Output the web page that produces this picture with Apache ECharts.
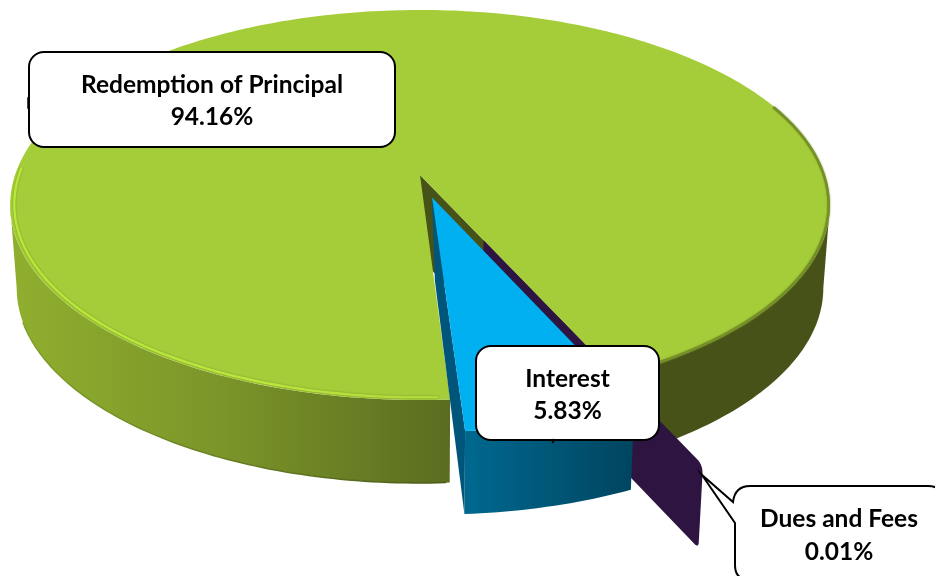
<!DOCTYPE html>
<html><head><meta charset="utf-8">
<style>html,body{margin:0;padding:0;background:#fff}#c{width:935px;height:576px}</style>
<script src="https://cdn.jsdelivr.net/npm/echarts@6/dist/echarts.min.js"></script>
</head><body><div id="c"></div>
<script>
// ---- data
var categories = ['Redemption of Principal', 'Interest', 'Dues and Fees'];
var shares = [94.16, 5.83, 0.01];

// ---- view: a tilted disc seen in perspective
var startAngle = 24.64, drawOrder = [1, 3, 2], explode = [0, 0.12, 0.358];
var apexX = 420, apexY = 175, radX = 405, radY = 190.4, persp = 0.1538, depth = 83, taper = 0.984;
var total = shares.reduce(function (a, b) { return a + b; }, 0);
var edgeAngle = Math.acos(persp) * 180 / Math.PI; // where the disc's outline turns
function rad(d) { return d * Math.PI / 180; }
function project(u, v, low) {
  var w = 1 - persp * v, x = radX * u / w, y = radY * v / w;
  return low ? [apexX + x * taper, apexY + y + depth] : [apexX + x, apexY + y];
}
function sliceAngles(i) {
  var a = startAngle;
  for (var k = 0; k < i; k++) a += shares[k] / total * 360;
  return [a, a + shares[i] / total * 360];
}
function rim(i, a0, a1, low, scale) {
  var ang = sliceAngles(i), mid = rad((ang[0] + ang[1]) / 2), r = scale || 1;
  var ou = explode[i] * Math.sin(mid), ov = explode[i] * Math.cos(mid), out = [];
  var n = Math.max(1, Math.ceil(Math.abs(a1 - a0)));
  for (var s = 0; s <= n; s++) {
    var t = rad(a0 + (a1 - a0) * s / n);
    out.push(project(ou + r * Math.sin(t), ov + r * Math.cos(t), low));
  }
  return out;
}
function apex(i, low) {
  var ang = sliceAngles(i), mid = rad((ang[0] + ang[1]) / 2);
  return project(explode[i] * Math.sin(mid), explode[i] * Math.cos(mid), low);
}
function grad(x0, x1, stops) {
  return new echarts.graphic.LinearGradient(x0, 0, x1, 0, stops.map(function (s) {
    return { offset: s[0], color: s[1] };
  }), true);
}
function poly(points, style) { return { type: 'polygon', shape: { points: points }, style: style }; }
function wallOuter(i, a0, a1) { return rim(i, a0, a1, false).concat(rim(i, a0, a1, true).reverse()); }
function line(points, stroke, width, blur) {
  return {
    type: 'polyline', shape: { points: points },
    style: { fill: null, stroke: stroke, lineWidth: width, lineJoin: 'round', lineCap: 'round', shadowBlur: blur || 0, shadowColor: blur ? stroke : 'transparent' }
  };
}
function rounded(prev, corner, next, r) {
  function toward(a, b, d) { var L = Math.hypot(b[0] - a[0], b[1] - a[1]); return [a[0] + (b[0] - a[0]) * d / L, a[1] + (b[1] - a[1]) * d / L]; }
  var s = toward(corner, prev, r), e = toward(corner, next, r), out = [];
  for (var k = 0; k <= 8; k++) {
    var t = k / 8, q = 1 - t;
    out.push([q * q * s[0] + 2 * q * t * corner[0] + t * t * e[0], q * q * s[1] + 2 * q * t * corner[1] + t * t * e[1]]);
  }
  return out;
}

var painters = [
  function () { // Redemption of Principal
    var a = sliceAngles(0), kids = [];
    var wallFill = grad(10, 830, [[0, '#90AF2E'], [0.26, '#7B9529'], [0.537, '#5A6C20'], [0.538, '#465217'], [1, '#465217']]);
    kids.push(poly(wallOuter(0, a[0], edgeAngle), { fill: wallFill }));
    kids.push(poly(wallOuter(0, 360 - edgeAngle, a[1]), { fill: wallFill }));
    kids.push(poly([apex(0, false), rim(0, a[0], a[0], false)[0], rim(0, a[0], a[0], true)[0], apex(0, true)], { fill: '#465217' }));
    kids.push(line(rim(0, 360 - edgeAngle + 10, a[1] - 0.5, true), grad(10, 450, [[0, '#83A02A'], [1, '#4B5A18']]), 1.5));
    kids.push(poly([apex(0, false)].concat(rim(0, a[0], a[1], false)), { fill: '#A5CD39' }));
    kids.push(line(rim(0, a[0], 112, false, 0.997), '#758F27', 2.5, 2));
    kids.push(line(rim(0, 268, a[1] - 1.5, false, 0.99), grad(10, 450, [[0, '#B8E838'], [0.6, '#BBE63E'], [1, '#AFD73B']]), 2.5, 2));
    return kids;
  },
  function () { // Interest
    var a = sliceAngles(1), top = rim(1, a[0], a[1], false), low = apex(1, true);
    return [
      poly(wallOuter(1, a[0], a[1]), { fill: grad(467, 632, [[0, '#00688F'], [1, '#004560']]) }),
      poly([apex(1, false), top[0], rim(1, a[0], a[0], true)[0], [low[0] + 3, low[1]]], { fill: '#00557A' }),
      poly([apex(1, false)].concat(top), { fill: '#00B0F0' })
    ];
  },
  function () { // Dues and Fees
    var a = sliceAngles(2), at = apex(2, false), ab = apex(2, true);
    var rt = rim(2, a[1], a[1], false)[0], rb = rim(2, a[1], a[1], true)[0];
    return [poly([at].concat(rounded(at, rt, rb, 9), rounded(rt, rb, ab, 6), [ab]), { fill: '#2E1440' })];
  }
];

// ---- callouts
var boxes = [
  { x: 29, y: 52, w: 366, h: 95, tx: 212, ty: 101 },
  { x: 476, y: 346, w: 183, h: 94, tx: 567.5, ty: 395 },
  { x: 735, y: 486, w: 208, h: 94, tx: 839, ty: 535.5 }
];
var boxStyle = { fill: '#fff', stroke: '#000', lineWidth: 2, lineJoin: 'miter' };
var marks = [
  [[28.5, 98], [28.5, 108]],
  [[553, 440], [553, 442]]
];
var pointerPath = 'M750 486H928Q943 486 943 501V565Q943 580 928 580H750Q735 580 735 565V523L702 475L733 502Q735 486 750 486Z';
function callouts(i) {
  var b = boxes[i], kids = [];
  if (i === 2) kids.push({ type: 'path', shape: { pathData: pointerPath }, style: boxStyle });
  else kids.push({ type: 'rect', shape: { x: b.x, y: b.y, width: b.w, height: b.h, r: 15 }, style: boxStyle });
  if (marks[i]) kids.push(line(marks[i], '#000', 2.5));
  kids.push({
    type: 'text',
    style: {
      x: b.tx, y: b.ty, text: categories[i] + '\n' + shares[i].toFixed(2) + '%',
      font: 'bold 24.5px Lato, "Open Sans", sans-serif', lineHeight: 32.5,
      fill: '#000', align: 'center', verticalAlign: 'middle'
    }
  });
  return { type: 'group', children: kids };
}

var series = categories.map(function (name, i) {
  return {
    type: 'custom', name: name, coordinateSystem: 'none', z: drawOrder[i], animation: false, silent: true,
    data: [shares[i]],
    renderItem: function () { return { type: 'group', children: painters[i]() }; }
  };
});
series.push({
  type: 'custom', name: 'labels', coordinateSystem: 'none', z: 10, animation: false, silent: true,
  data: shares.slice(),
  renderItem: function (params) { return callouts(params.dataIndex); }
});
var chart = echarts.init(document.getElementById('c'), null, { renderer: 'canvas' });
chart.setOption({ backgroundColor: '#fff', animation: false, series: series });
</script></body></html>
